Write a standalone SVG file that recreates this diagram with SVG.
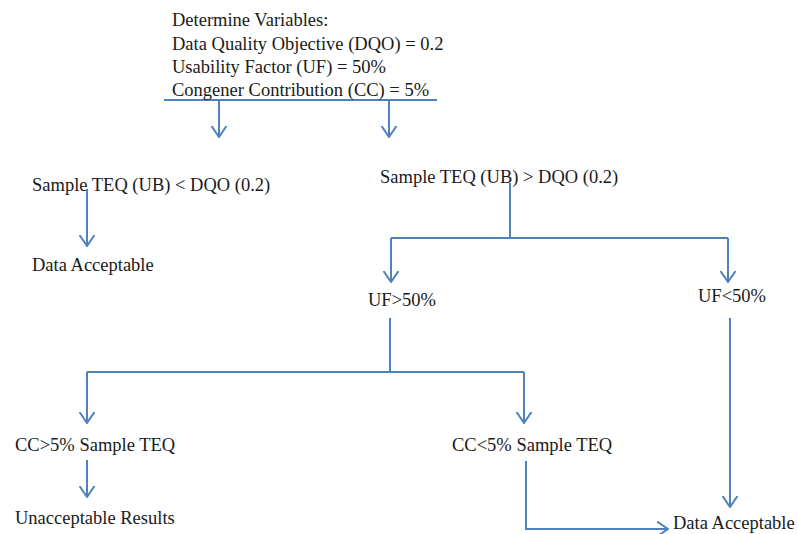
<svg xmlns="http://www.w3.org/2000/svg" width="797" height="534" viewBox="0 0 797 534">
<style>
text{font-family:"Liberation Serif","Times New Roman",serif;font-size:18.5px;fill:#1a1a1a}
.c{fill:none;stroke:#4f81bd;stroke-width:2}
</style>
<defs>
<marker id="ah" viewBox="0 0 12 16" refX="11.5" refY="8" markerWidth="12" markerHeight="16" markerUnits="userSpaceOnUse" orient="auto">
<path d="M0.5,0.5 L11.5,8 L0.5,15.5" fill="none" stroke="#4f81bd" stroke-width="2"/>
</marker>
</defs>
<rect width="797" height="534" fill="#ffffff"/>
<g id="connectors">
<path class="c" d="M164,100 H437"/>
<path class="c" d="M219,100 V137" marker-end="url(#ah)"/>
<path class="c" d="M389,100 V137" marker-end="url(#ah)"/>
<path class="c" d="M87,189 V246" marker-end="url(#ah)"/>
<path class="c" d="M510,183 V238"/>
<path class="c" d="M391,238 H728"/>
<path class="c" d="M391,238 V282" marker-end="url(#ah)"/>
<path class="c" d="M728,238 V282" marker-end="url(#ah)"/>
<path class="c" d="M390,318 V372"/>
<path class="c" d="M87,372 H524"/>
<path class="c" d="M87,372 V423" marker-end="url(#ah)"/>
<path class="c" d="M524,372 V423" marker-end="url(#ah)"/>
<path class="c" d="M87,460 V497" marker-end="url(#ah)"/>
<path class="c" d="M730,318 V507" marker-end="url(#ah)"/>
<path class="c" d="M526,461 V529 H668" marker-end="url(#ah)"/>
</g>
<g id="variables">
<text x="172" y="26">Determine Variables:</text>
<text x="172" y="50">Data Quality Objective (DQO) = 0.2</text>
<text x="172" y="73">Usability Factor (UF) = 50%</text>
<text x="172" y="96">Congener Contribution (CC) = 5%</text>
</g>
<g id="below"><text x="32" y="191">Sample TEQ (UB) &lt; DQO (0.2)</text></g>
<g id="above"><text x="380" y="183">Sample TEQ (UB) &gt; DQO (0.2)</text></g>
<g id="accept1"><text x="32" y="271">Data Acceptable</text></g>
<g id="ufhigh"><text x="368" y="306">UF&gt;50%</text></g>
<g id="uflow"><text x="698" y="302">UF&lt;50%</text></g>
<g id="cchigh"><text x="15" y="451">CC&gt;5% Sample TEQ</text></g>
<g id="cclow"><text x="452" y="451">CC&lt;5% Sample TEQ</text></g>
<g id="unacceptable"><text x="15" y="524">Unacceptable Results</text></g>
<g id="accept2"><text x="673" y="529">Data Acceptable</text></g>
</svg>
